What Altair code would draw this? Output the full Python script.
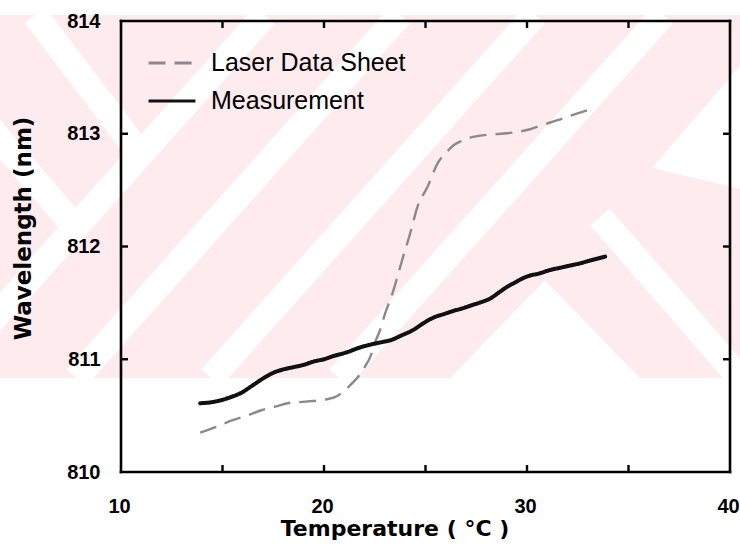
import altair as alt
import pandas as pd

# ---------------- data ----------------
series_names = ["Laser Data Sheet", "Measurement"]

lds_temp = [13.9, 14.7, 15.5, 16.2, 16.95, 17.6, 18.2, 18.8, 19.45, 20.0, 20.6, 21.0,
            21.4, 21.7, 22.0, 22.3, 22.5, 22.8, 23.0, 23.4, 23.85, 24.25, 24.6, 25.1,
            25.6, 26.05, 26.4, 26.7, 27.3, 28.0, 28.7, 29.3, 30.15, 30.8, 31.5, 32.3,
            33.0, 33.35]
lds_wl = [810.35, 810.40, 810.46, 810.50, 810.55, 810.58, 810.61, 810.62, 810.63, 810.64,
          810.67, 810.72, 810.79, 810.85, 810.93, 811.03, 811.14, 811.28, 811.40, 811.60,
          811.88, 812.12, 812.35, 812.53, 812.74, 812.84, 812.90, 812.93, 812.97, 812.99,
          813.00, 813.01, 813.04, 813.08, 813.12, 813.17, 813.21, 813.23]

meas_temp = [13.9, 14.5, 15.0, 15.5, 15.9, 16.5, 17.0, 17.5, 18.0, 18.5, 19.0, 19.5, 20.0,
             20.5, 21.1, 21.7, 22.3, 22.8, 23.3, 23.8, 24.4, 24.9, 25.4, 25.9, 26.4, 26.8,
             27.3, 27.8, 28.2, 28.6, 29.0, 29.4, 29.7, 30.1, 30.6, 31.1, 31.6, 32.1, 32.6,
             33.2, 33.85]
meas_wl = [810.61, 810.62, 810.64, 810.67, 810.70, 810.77, 810.83, 810.88, 810.91, 810.93,
           810.95, 810.98, 811.00, 811.03, 811.06, 811.10, 811.13, 811.15, 811.17, 811.21,
           811.26, 811.32, 811.37, 811.40, 811.43, 811.45, 811.48, 811.51, 811.54, 811.59,
           811.64, 811.68, 811.71, 811.74, 811.76, 811.79, 811.81, 811.83, 811.85, 811.88,
           811.91]

x_domain = [10, 40]
y_domain = [810, 814]
x_label_values = [10, 20, 30, 40]
y_label_values = [810, 811, 812, 813, 814]
x_minor_ticks = [15, 20, 25, 30, 35]
y_minor_ticks = [811, 812, 813]

# ---------------- layout ----------------
PAD_L, PAD_T, PAD_R, PAD_B = 121, 21, 10, 74
W, H = 740 - PAD_L - PAD_R, 546 - PAD_T - PAD_B

df = pd.concat([
    pd.DataFrame({"t": lds_temp, "w": lds_wl, "series": series_names[0],
                  "i": range(len(lds_temp))}),
    pd.DataFrame({"t": meas_temp, "w": meas_wl, "series": series_names[1],
                  "i": range(len(meas_temp))}),
], ignore_index=True)

xs = alt.Scale(domain=x_domain, nice=False, zero=False)
ys = alt.Scale(domain=y_domain, nice=False, zero=False)
one = pd.DataFrame({"k": [0]})

# ---------------- background watermark (decoration, image pixels) ----------------
PINK = "#fdebee"
wm_band = alt.Chart(one).mark_rect(color=PINK).encode(
    x=alt.value(0 - PAD_L), x2=alt.value(740 - PAD_L),
    y=alt.value(15 - PAD_T), y2=alt.value(378 - PAD_T))

wm_stripes = [
    (265, 15, -59, 378), (400, 15, 76, 378), (535, 15, 211, 378), (663, 15, 339, 378),
    (600, 217, 740, 378),
    (35, 15, 145, 160), (-10, 128, 76, 228),
]
wm_layers = [wm_band]
for (a, b, c, d) in wm_stripes:
    wm_layers.append(
        alt.Chart(one).mark_rule(color="white", strokeWidth=26, strokeCap="butt").encode(
            x=alt.value(a - PAD_L), y=alt.value(b - PAD_T),
            x2=alt.value(c - PAD_L), y2=alt.value(d - PAD_T)))
# white chevron pieces: bottom "Λ" and right "◁"
wm_shapes = [
    ("M-1,1L0,-0.03L1,1Z", 36100, 545, 283),
    ("M-0.74,0.66L0.69,-1L0.69,1Z", 16900, 700, 125),
]
for (path, size, cx, cy) in wm_shapes:
    wm_layers.append(
        alt.Chart(one).mark_point(shape=path, filled=True, color="white", opacity=1,
                                  size=size, strokeWidth=0).encode(
            x=alt.value(cx - PAD_L), y=alt.value(cy - PAD_T)))

# ---------------- frame and inward ticks ----------------
FR = dict(color="black", strokeWidth=2.6, strokeCap="square")
frame_v = alt.Chart(pd.DataFrame({"x": x_domain})).mark_rule(**FR).encode(
    x=alt.X("x:Q", scale=xs), y=alt.datum(y_domain[0], scale=ys), y2=alt.datum(y_domain[1]))
frame_h = alt.Chart(pd.DataFrame({"y": y_domain})).mark_rule(**FR).encode(
    y=alt.Y("y:Q", scale=ys), x=alt.datum(x_domain[0], scale=xs), x2=alt.datum(x_domain[1]))

TK = dict(color="black", strokeWidth=2.4)
xt = pd.DataFrame({"x": x_minor_ticks})
yt = pd.DataFrame({"y": y_minor_ticks})
tick_bottom = alt.Chart(xt).mark_rule(y2Offset=-7, **TK).encode(
    x=alt.X("x:Q", scale=xs), y=alt.datum(y_domain[0]), y2=alt.datum(y_domain[0]))
tick_top = alt.Chart(xt).mark_rule(y2Offset=7, **TK).encode(
    x=alt.X("x:Q", scale=xs), y=alt.datum(y_domain[1]), y2=alt.datum(y_domain[1]))
tick_left = alt.Chart(yt).mark_rule(x2Offset=7, **TK).encode(
    y=alt.Y("y:Q", scale=ys), x=alt.datum(x_domain[0]), x2=alt.datum(x_domain[0]))
tick_right = alt.Chart(yt).mark_rule(x2Offset=-7, **TK).encode(
    y=alt.Y("y:Q", scale=ys), x=alt.datum(x_domain[1]), x2=alt.datum(x_domain[1]))

# ---------------- data lines ----------------
legend = alt.Legend(
    title=None, orient="none", legendX=26, legendY=17, padding=0,
    symbolType="stroke", symbolSize=2200, symbolStrokeWidth=3,
    labelFont="Liberation Sans", labelFontSize=25, labelColor="black",
    labelOffset=14, labelLimit=0, rowPadding=-9)

color_enc = alt.Color("series:N", scale=alt.Scale(domain=series_names,
                                                  range=["#8a8a8a", "#111111"]),
                      legend=legend)
dash_enc = alt.StrokeDash("series:N", scale=alt.Scale(domain=series_names,
                                                      range=[[17, 9], [1, 0]]),
                          legend=legend)

x_axis = alt.Axis(
    title="Temperature ( °C )", values=x_label_values, format="d", grid=False,
    domain=False, ticks=False, tickSize=0, labelPadding=40, labelBaseline="alphabetic",
    labelFlush=False, labelOverlap=False, labelOffset=-2,
    labelFont="Liberation Sans", labelFontSize=20, labelFontWeight="bold", labelColor="black",
    titleFont="DejaVu Sans", titleFontSize=22, titleFontWeight="bold", titleColor="black",
    titleX=273.5, titleY=63, titleAlign="center", titleBaseline="alphabetic", zindex=1)
y_axis = alt.Axis(
    title="Wavelength (nm)", values=y_label_values, format="d", grid=False,
    domain=False, ticks=False, tickSize=0, labelPadding=21, labelFlush=False,
    labelOverlap=False,
    labelFont="Liberation Sans", labelFontSize=20, labelFontWeight="bold", labelColor="black",
    titleFont="DejaVu Sans", titleFontSize=23, titleFontWeight="bold", titleColor="black",
    titleX=-91, titleY=207, titleAngle=270, titleAlign="center",
    titleBaseline="alphabetic", zindex=1)

base = alt.Chart(df).encode(
    x=alt.X("t:Q", scale=xs, axis=x_axis),
    y=alt.Y("w:Q", scale=ys, axis=y_axis),
    color=color_enc, strokeDash=dash_enc, order="i:Q")

line_lds = base.transform_filter(alt.datum.series == series_names[0]).mark_line(
    interpolate="monotone", strokeWidth=2.4, strokeCap="butt")
line_meas = base.transform_filter(alt.datum.series == series_names[1]).mark_line(
    interpolate="monotone", strokeWidth=4, strokeCap="round")

chart = alt.layer(
    *wm_layers, frame_v, frame_h, tick_bottom, tick_top, tick_left, tick_right,
    line_lds, line_meas
).properties(
    width=W, height=H,
    autosize=alt.AutoSizeParams(type="none"),
    padding={"left": PAD_L, "top": PAD_T, "right": PAD_R, "bottom": PAD_B},
    background="white",
).configure_view(strokeWidth=0)

chart.save("out.html", embed_options={"renderer": "svg", "actions": False})
